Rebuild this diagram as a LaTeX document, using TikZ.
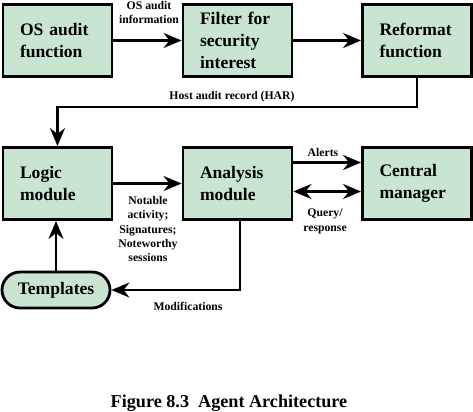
\documentclass[tikz,border=0pt]{standalone}
\usepackage{fontspec}
\setmainfont{Liberation Serif}
\usetikzlibrary{arrows.meta,shapes.misc}
\definecolor{boxgreen}{RGB}{201,229,209}

\begin{document}
\begin{tikzpicture}[
    x=0.3mm, y=-0.3mm,
    unit/.style={draw, fill=boxgreen, line width=2.4pt, align=left,
        text width=22.5mm, inner xsep=5.1mm, inner ysep=0pt,
        minimum height=21.6mm, font=\fontsize{15}{19}\selectfont\bfseries},
    pill/.style={draw, fill=boxgreen, line width=2.4pt, rounded rectangle,
        minimum width=32.4mm, minimum height=10.8mm, inner sep=0pt,
        font=\fontsize{15}{19}\selectfont\bfseries},
    tag/.style={font=\fontsize{10}{12.3}\selectfont\bfseries, align=center,
        inner sep=0pt},
    caption/.style={font=\fontsize{15.5}{19}\selectfont\bfseries},
    arrow/.style={-{Stealth[length=5.4mm, width=4.5mm]}, line width=2pt},
    twoway/.style={{Stealth[length=5.4mm, width=4.5mm]}-{Stealth[length=5.4mm, width=4.5mm]},
        line width=2pt}
]
    \useasboundingbox (0,0) rectangle (473,411);

    % top row
    \node[unit] (os_audit) at (57.5, 40.5) {OS audit\\function};
    \node[unit] (filter) at (237.5, 40.5) {Filter for\\security\\interest};
    \node[unit] (reformat) at (417, 40.5) {Reformat\\function};

    % second row
    \node[unit] (logic) at (57.5, 183.5) {Logic\\module};
    \node[unit] (analysis) at (237.5, 183.5) {Analysis\\module};
    \node[unit] (central) at (417, 183.5) {Central\\manager};
    \node[pill] (templates) at (56, 290) {Templates};

    \draw[arrow] (os_audit) -- (filter);
    \node[tag] (os_info) at (149, 12.5) {OS audit\\information};
    \draw[arrow] (filter) -- (reformat);

    \coordinate (har_turn) at (417, 107);
    \draw[arrow] (reformat.south) -- (har_turn) -| (logic.north);
    \node[tag] (har) at (232, 97) {Host audit record (HAR)};

    \draw[arrow] (logic) -- (analysis);
    \node[tag] (notable) at (148, 229)
        {Notable\\activity;\\Signatures;\\Noteworthy\\sessions};

    \draw[arrow] ([yshift=6.3mm]analysis.east) -- ([yshift=6.3mm]central.west);
    \node[tag] (alerts) at (323, 152) {Alerts};
    \draw[twoway] ([yshift=-2.4mm]analysis.east) -- ([yshift=-2.4mm]central.west);
    \node[tag] (query) at (325, 221.5) {Query/\\response};

    \draw[arrow] ([xshift=0.75mm]analysis.south) |- (templates.east);
    \node[tag] (modif) at (188, 306) {Modifications};
    \draw[arrow] (templates.north) -- (templates.north |- logic.south);

    \node[caption] (fig_caption) at (229, 403) {Figure 8.3\ \ Agent Architecture};
\end{tikzpicture}
\end{document}
